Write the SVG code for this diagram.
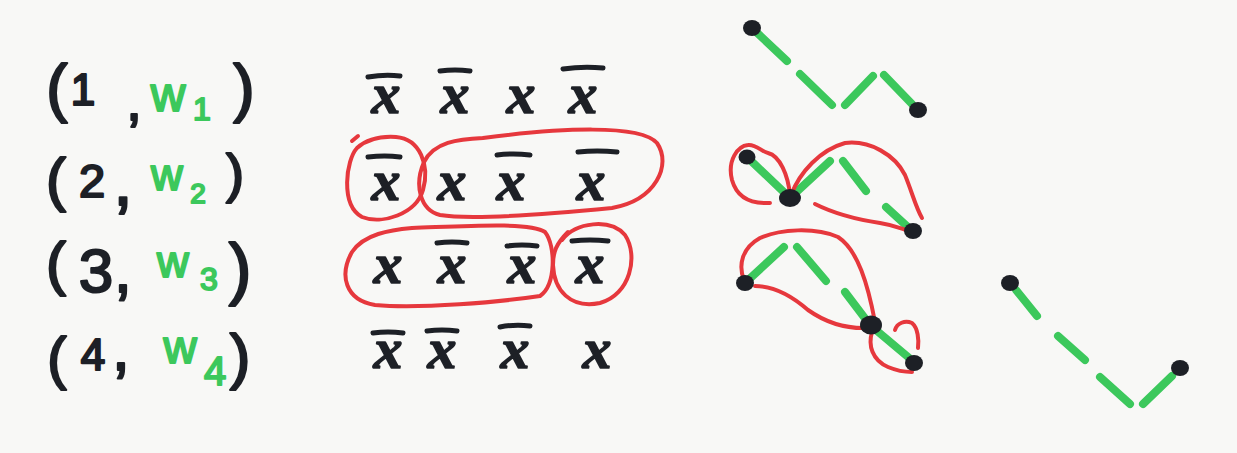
<svg xmlns="http://www.w3.org/2000/svg" width="1237" height="453" viewBox="0 0 1237 453">
<style>
.k{font-family:"Liberation Sans",Arial,sans-serif;fill:#1d2026;stroke:#1d2026;stroke-width:2.2;stroke-linejoin:round;text-anchor:middle}
.g{font-family:"Liberation Sans",Arial,sans-serif;fill:#3cc85c;stroke:#3cc85c;stroke-width:2;stroke-linejoin:round;text-anchor:middle}
.x{font-family:"Liberation Serif","Times New Roman",serif;font-style:italic;font-weight:bold;font-size:58px;fill:#1d2026;stroke:#1d2026;stroke-width:1.5;stroke-linejoin:round;text-anchor:middle}
.bar{stroke:#1d2026;stroke-width:5;stroke-linecap:round;fill:none}
.red{stroke:#e6383d;stroke-width:4;fill:none;stroke-linecap:round;stroke-linejoin:round}
.grn{stroke:#3cc85c;stroke-width:8;fill:none;stroke-linecap:round}
.dot{fill:#1d2026}
</style>
<rect width="1237" height="453" fill="#f8f8f6"/>
<g id="labels">
 <g id="label1">
  <text class="k" x="57" y="110" font-size="64">(</text>
  <text class="k" x="83" y="105" font-size="44">1</text>
  <text class="k" x="134" y="120" font-size="56">,</text>
  <text class="g" x="168" y="111" font-size="48">w</text>
  <text class="g" x="202" y="120" font-size="32">1</text>
  <text class="k" x="244" y="110" font-size="64">)</text>
 </g>
 <g id="label2">
  <text class="k" x="56" y="200" font-size="60">(</text>
  <text class="k" x="92" y="197" font-size="47">2</text>
  <text class="k" x="123" y="205" font-size="70">,</text>
  <text class="g" x="167" y="190" font-size="44">w</text>
  <text class="g" x="198" y="203" font-size="28">2</text>
  <text class="k" x="235" y="192" font-size="54">)</text>
 </g>
 <g id="label3">
  <text class="k" x="56" y="284" font-size="60">(</text>
  <text class="k" x="96" y="292" font-size="62">3</text>
  <text class="k" x="123" y="292" font-size="64">,</text>
  <text class="g" x="173" y="277" font-size="44">w</text>
  <text class="g" x="209" y="290" font-size="32">3</text>
  <text class="k" x="240" y="292" font-size="68">)</text>
 </g>
 <g id="label4">
  <text class="k" x="57" y="378" font-size="58">(</text>
  <text class="k" x="93" y="370" font-size="44">4</text>
  <text class="k" x="121" y="370" font-size="64">,</text>
  <text class="g" x="180" y="363" font-size="46">w</text>
  <text class="g" x="215" y="385" font-size="40">4</text>
  <text class="k" x="240" y="377" font-size="62">)</text>
 </g>
</g>
<g id="sequences">
 <g id="seq1">
  <text class="x" x="386" y="113">x</text><path class="bar" d="M368,77 Q385,74 400,76"/>
  <text class="x" x="455" y="113">x</text><path class="bar" d="M440,71 Q455,69 470,71"/>
  <text class="x" x="521" y="113">x</text>
  <text class="x" x="583" y="113">x</text><path class="bar" d="M563,69 Q583,66 603,68"/>
 </g>
 <g id="seq2">
  <text class="x" x="386" y="200">x</text><path class="bar" d="M368,157 Q385,155 400,157"/>
  <text class="x" x="452" y="200">x</text>
  <text class="x" x="511" y="200">x</text><path class="bar" d="M497,155 Q513,153 530,155"/>
  <text class="x" x="591" y="200">x</text><path class="bar" d="M578,152 Q597,150 617,152"/>
 </g>
 <g id="seq3">
  <text class="x" x="388" y="283">x</text>
  <text class="x" x="452" y="283">x</text><path class="bar" d="M437,243 Q452,241 467,243"/>
  <text class="x" x="522" y="283">x</text><path class="bar" d="M507,246 Q522,244 537,246"/>
  <text class="x" x="590" y="283">x</text><path class="bar" d="M572,241 Q590,239 608,241"/>
 </g>
 <g id="seq4">
  <text class="x" x="388" y="368">x</text><path class="bar" d="M373,333 Q388,331 403,333"/>
  <text class="x" x="442" y="368">x</text><path class="bar" d="M427,331 Q442,329 457,331"/>
  <text class="x" x="515" y="368">x</text><path class="bar" d="M500,327 Q515,324 530,326"/>
  <text class="x" x="597" y="368">x</text>
 </g>
 <g id="groupings">
  <path class="red" d="M352,141 L358,136 M357,148 C346,160 340,205 362,217 C382,225 416,214 423,190 C430,165 420,139 396,137 C380,136 366,140 357,148"/>
  <path class="red" d="M483,138 C560,128 640,124 657,143 C672,165 656,200 612,208 C540,215 470,220 440,215 C420,210 414,185 424,162 C434,142 458,139 483,138"/>
  <path class="red" d="M412,228 C470,226 530,222 545,232 C556,246 556,285 540,296 C500,302 420,309 375,305 C345,300 339,275 352,252 C364,234 390,230 412,228"/>
  <path class="red" d="M562,240 C576,222 610,218 625,235 C639,256 630,295 600,303 C570,309 554,290 553,265 C553,252 556,244 568,232"/>
 </g>
</g>
<g id="paths">
 <g id="path1">
  <path class="grn" d="M752,28 L787,61 M800,74 L832,105 M845,105 L873,76 M884,75 L912,104"/>
  <ellipse class="dot" cx="752" cy="28" rx="9" ry="8"/><ellipse class="dot" cx="918" cy="110" rx="9" ry="8"/>
 </g>
 <g id="path2">
  <path class="grn" d="M747,157 L790,198 L830,161 M843,161 L866,191 M886,207 L910,229"/>
  <path class="red" d="M770,203 C752,204 737,198 732,180 C727,160 738,146 748,145 C756,144 762,152 768,153 C780,156 788,175 790,195"/>
  <path class="red" d="M791,195 C800,172 820,150 845,143 C870,140 895,155 905,175 C912,192 916,208 922,218"/>
  <path class="red" d="M815,204 C835,214 860,220 880,223 C893,225 900,228 906,230"/>
  <ellipse class="dot" cx="747" cy="157" rx="8.5" ry="7.5"/><ellipse class="dot" cx="790" cy="198" rx="11" ry="9"/><ellipse class="dot" cx="913" cy="231" rx="9" ry="8"/>
 </g>
 <g id="path3">
  <path class="grn" d="M745,283 L784,247 M797,247 L826,281 M845,292 L870,325 L914,362"/>
  <path class="red" d="M744,280 C738,265 742,248 760,238 C780,229 815,227 838,237 C858,250 868,285 875,322"/>
  <path class="red" d="M755,286 C775,286 792,296 808,310 C825,322 845,329 868,328"/>
  <path class="red" d="M872,332 C868,345 872,360 888,367 C900,372 908,372 912,372"/>
  <path class="red" d="M895,330 C897,323 905,320 912,323 C918,328 919,340 918,348"/>
  <ellipse class="dot" cx="745" cy="283" rx="9" ry="8"/><ellipse class="dot" cx="871" cy="325" rx="11" ry="9.5"/><ellipse class="dot" cx="914" cy="363" rx="9" ry="8"/>
 </g>
 <g id="path4">
  <path class="grn" d="M1016,290 L1037,316 M1058,336 L1085,360 M1100,377 L1130,404 M1143,404 L1172,376"/>
  <ellipse class="dot" cx="1010" cy="283" rx="9" ry="8"/><ellipse class="dot" cx="1180" cy="368" rx="9" ry="8"/>
 </g>
</g>
</svg>
